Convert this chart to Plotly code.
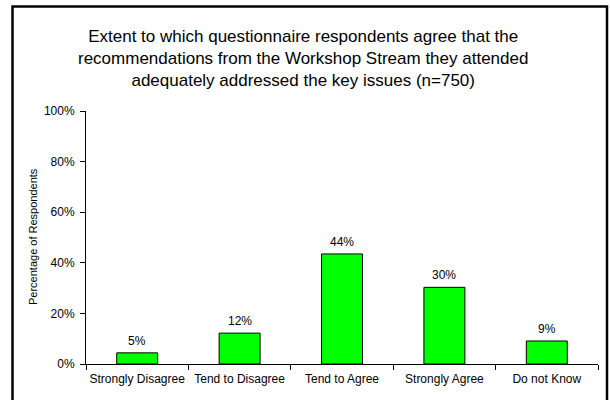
import plotly.graph_objects as go

categories = ["Strongly Disagree", "Tend to Disagree", "Tend to Agree", "Strongly Agree", "Do not Know"]
values = [4.4, 12.2, 43.5, 30.3, 9.1]
value_labels = ["5%", "12%", "44%", "30%", "9%"]
y_ticks = [0, 20, 40, 60, 80, 100]
y_tick_labels = ["0%", "20%", "40%", "60%", "80%", "100%"]
title_text = ("Extent to which questionnaire respondents agree that the<br>"
              "recommendations from the Workshop Stream they attended<br>"
              "adequately addressed the key issues (n=750)")
y_title = "Percentage of Respondents"

W, H = 610, 400
L, R, T, B = 86, 12, 111, 36
pw, ph = W - L - R, H - T - B

def px_x(x):
    return (x - L) / pw

def px_y(y):
    return (H - B - y) / ph

FONT = "Liberation Sans, Arial, sans-serif"

fig = go.Figure()
fig.add_trace(go.Bar(
    x=categories, y=values, width=0.4,
    marker=dict(color="#00FF00", line=dict(color="#000000", width=1)),
    hoverinfo="skip",
))

for c, v, t in zip(categories, values, value_labels):
    fig.add_annotation(x=c, y=v, text=t, showarrow=False, yanchor="bottom",
                       yshift=3, font=dict(family=FONT, size=12, color="#000"))

fig.add_annotation(xref="paper", yref="paper", x=px_x(303), y=px_y(58),
                   text=title_text, showarrow=False, xanchor="center", yanchor="middle",
                   font=dict(family=FONT, size=17, color="#000"))

fig.add_annotation(xref="paper", yref="paper", x=px_x(33), y=px_y(237),
                   text=y_title, textangle=-90, showarrow=False,
                   xanchor="center", yanchor="middle",
                   font=dict(family=FONT, size=11, color="#000"))

fig.add_shape(type="rect", xref="paper", yref="paper",
              x0=px_x(12.5), x1=px_x(607), y0=px_y(405), y1=px_y(6.5),
              line=dict(color="#000", width=2.5), fillcolor="rgba(0,0,0,0)", layer="above")

fig.update_layout(
    width=W, height=H,
    margin=dict(l=L, r=R, t=T, b=B, pad=0, autoexpand=False),
    paper_bgcolor="white", plot_bgcolor="white",
    showlegend=False,
    font=dict(family=FONT, size=12, color="#000"),
    bargap=0.6,
)
fig.update_xaxes(
    type="category", showline=True, linecolor="#000", linewidth=1,
    ticks="outside", tickson="boundaries", ticklen=5, tickcolor="#000",
    showgrid=False, tickfont=dict(family=FONT, size=12, color="#000"),
    tickangle=0, automargin=False, ticklabelstandoff=4,
    range=[-0.5, 4.5], fixedrange=True,
)
fig.update_yaxes(
    range=[0, 100], tickvals=y_ticks, ticktext=y_tick_labels,
    showline=True, linecolor="#000", linewidth=1,
    ticks="outside", ticklen=5, tickcolor="#000",
    showgrid=False, zeroline=False, automargin=False, ticklabelstandoff=3,
    tickfont=dict(family=FONT, size=12, color="#000"), fixedrange=True,
)

fig.write_html("out.html", config={"displayModeBar": False},
               post_script="document.body.style.margin='0';document.body.style.overflow='hidden';")
